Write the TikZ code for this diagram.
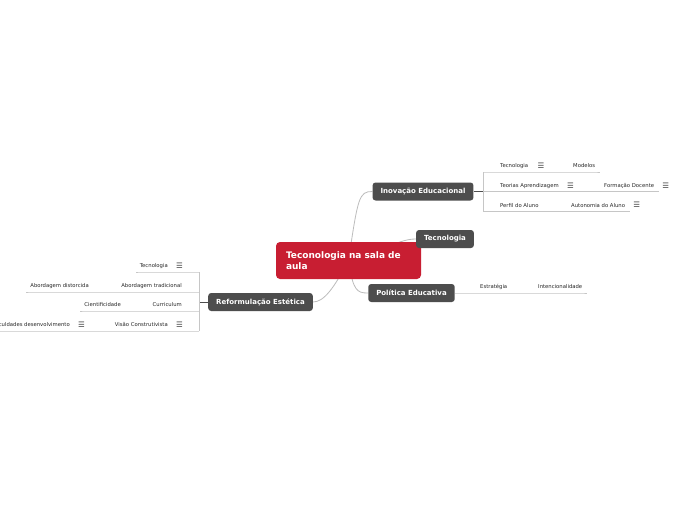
\documentclass[tikz,border=0pt]{standalone}
\usepackage{fontspec}
\setmainfont{DejaVu Sans}
\usetikzlibrary{positioning,backgrounds}
\definecolor{raizcor}{RGB}{200,30,50}
\definecolor{topicocor}{RGB}{77,77,77}
\definecolor{ramocor}{RGB}{188,188,188}
\definecolor{linhacor}{RGB}{198,198,198}

\begin{document}
\begin{tikzpicture}[x=1pt,y=-1pt,
		raizbox/.style={fill=raizcor,rounded corners=4pt,text=white,font=\bfseries\fontsize{9}{11.5}\selectfont,
			text width=125pt,align=left,minimum height=37pt,inner xsep=10pt},
		topico/.style={fill=topicocor,rounded corners=3pt,text=white,font=\bfseries\fontsize{7}{8}\selectfont,
			minimum height=18pt,inner xsep=8pt,inner ysep=0pt},
		folha/.style={inner sep=0pt,text=black!85,font=\fontsize{5.3}{6}\selectfont},
		icone/.style={inner sep=0pt,text=black!75,font=\fontsize{7.5}{8}\selectfont},
		ramo/.style={draw=ramocor,line width=0.8pt},
		sublinha/.style={draw=linhacor,line width=0.7pt},
		juncao/.style={draw=topicocor,line width=0.9pt}]
		\clip (0,0) rectangle (697,520);
		
		% 中心与主题
		\node[raizbox] (raiz) at (348.5,260.5) {Teconologia na sala de\\aula};
		\node[topico] (inov) at (423,191.5) {Inovação Educacional};
		\node[topico] (tecno) at (445,239) {Tecnologia};
		\node[topico] (polit) at (411.5,293) {Política Educativa};
		\node[topico] (reform) at (260.5,302) {Reformulação Estética};
		
		% 分支
		\begin{scope}[on background layer]
			\fill[white] (0,0) rectangle (697,520);
			\draw[ramo] (raiz.center) .. controls (358,197) and (359,191.5) .. (inov.west);
			\draw[ramo] (raiz.center) .. controls (400,242) and (405,239) .. (tecno.west);
			\draw[ramo] (raiz.center) .. controls (353,291) and (357,293) .. (polit.west);
			\draw[ramo] (raiz.center) .. controls (334,288) and (324,302) .. (reform.east);
		\end{scope}
		
		% Inovação Educacional
		\begin{scope}
			\coordinate (inovbarA) at (483,172);
			\coordinate (inovbarB) at (483,191.5);
			\coordinate (inovbarC) at (483,211.5);
			\draw[juncao] (inov.east) -- (inovbarB);
			\draw[sublinha] (inovbarA) -- (inovbarC);
			\node[folha,anchor=base west] (inovA) at (500,167) {Tecnologia};
			\node[icone,right=9pt of inovA] (inovAic) {☰};
			\node[folha,anchor=base west] (modelos) at (573,167) {Modelos};
			\node[folha,anchor=base west] (inovB) at (500,187) {Teorias Aprendizagem};
			\node[icone,right=8pt of inovB] (inovBic) {☰};
			\node[folha,anchor=base west] (formacao) at (604,187) {Formação Docente};
			\node[icone,right=8pt of formacao] (formacaoic) {☰};
			\node[folha,anchor=base west] (inovC) at (500,207) {Perfil do Aluno};
			\node[folha,anchor=base west] (autonomia) at (571,207) {Autonomia do Aluno};
			\node[icone,right=8pt of autonomia] (autonomiaic) {☰};
			\draw[sublinha] (inovbarA) -- (modelos.east |- inovbarA) -- ++(5,0);
			\draw[sublinha] (inovbarB) -- (formacao.east |- inovbarB) -- ++(5,0);
			\draw[sublinha] (inovbarC) -- (autonomia.east |- inovbarC) -- ++(5,0);
		\end{scope}
		
		% Política Educativa
		\begin{scope}
			\node[folha,anchor=base west] (estrategia) at (480,288.5) {Estratégia};
			\node[folha,anchor=base west] (intenc) at (538,288.5) {Intencionalidade};
			\draw[sublinha] (polit.east) -- (intenc.east |- polit.east) -- ++(5,0);
		\end{scope}
		
		% Reformulação Estética
		\begin{scope}
			\coordinate (refbar) at (199,302);
			\coordinate (refbarA) at (199,272);
			\coordinate (refbarB) at (199,292);
			\coordinate (refbarC) at (199,311);
			\coordinate (refbarD) at (199,331);
			\draw[juncao] (reform.west) -- (refbar);
			\draw[sublinha] (refbarA) -- (refbarD);
			\node[folha,anchor=base east] (refA) at (168,267.5) {Tecnologia};
			\node[icone,right=8pt of refA] (refAic) {☰};
			\node[folha,anchor=base east] (refB) at (182,287.5) {Abordagem tradicional};
			\node[folha,anchor=base east] (distorcida) at (89,287.5) {Abordagem distorcida};
			\node[folha,anchor=base east] (refC) at (182,306.5) {Curriculum};
			\node[folha,anchor=base east] (cientif) at (121,306.5) {Cientificidade};
			\node[folha,anchor=base east] (refD) at (168,326.5) {Visão Construtivista};
			\node[icone,right=8pt of refD] (refDic) {☰};
			\node[folha,anchor=base east] (dificul) at (70,326.5) {Dificuldades desenvolvimento};
			\node[icone,right=8pt of dificul] (dificulic) {☰};
			\draw[sublinha] (refbarA) -- (refA.west |- refbarA) -- ++(-4,0);
			\draw[sublinha] (refbarB) -- (distorcida.west |- refbarB) -- ++(-4,0);
			\draw[sublinha] (refbarC) -- (cientif.west |- refbarC) -- ++(-4,0);
			\draw[sublinha] (refbarD) -- (dificul.west |- refbarD) -- ++(-4,0);
		\end{scope}
	\end{tikzpicture}
\end{document}
